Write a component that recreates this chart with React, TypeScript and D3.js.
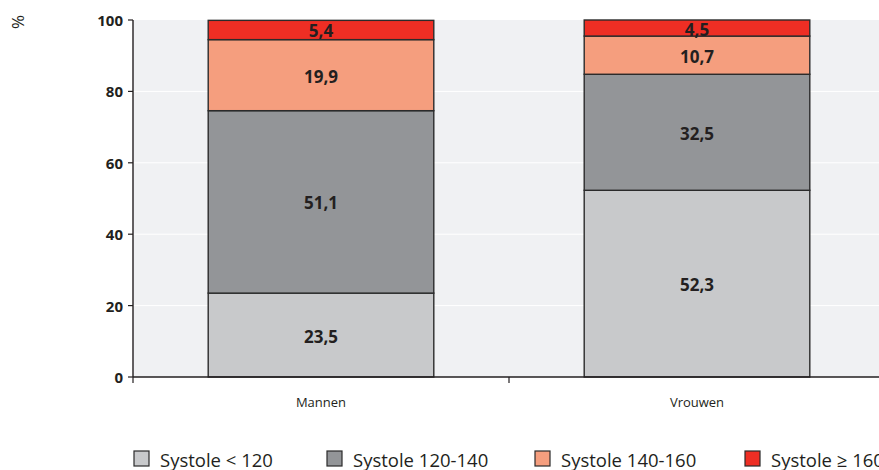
import React from "react";
import * as d3 from "d3";

const categories = ["Mannen", "Vrouwen"];
const seriesNames = ["Systole < 120", "Systole 120-140", "Systole 140-160", "Systole ≥ 160"];
const lt120 = [23.5, 52.3];
const s120_140 = [51.1, 32.5];
const s140_160 = [19.9, 10.7];
const ge160 = [5.4, 4.5];
const yTicks = [0, 20, 40, 60, 80, 100];
const colors = ["#c8c9cb", "#939598", "#f59e7e", "#ee2e24"];

const W = 879;
const H = 470;
const left = 133;
const right = 885;
const top = 20;
const bottom = 377;

export default function App() {
  const series = [lt120, s120_140, s140_160, ge160];
  const x = d3.scaleBand<string>().domain(categories).range([left, right]).paddingInner(0).paddingOuter(0);
  const y = d3.scaleLinear().domain([0, 100]).range([bottom, top]);
  const barW = x.bandwidth() * 0.6;
  const table = categories.map((c, i) => {
    const row: any = { cat: c };
    seriesNames.forEach((s, j) => (row[s] = series[j][i]));
    return row;
  });
  const stacked = d3.stack<any>().keys(seriesNames)(table);
  const font = "'Open Sans', 'DejaVu Sans', sans-serif";
  const legendX = [134, 327, 535, 745];

  return (
    <svg width={W} height={H} style={{ position: "absolute", left: 0, top: 0, fontFamily: font }}>
      <rect x={left} y={top} width={right - left} height={bottom - top} fill="#f0f1f3" />
      {yTicks.filter((t) => t > 0 && t < 100).map((t) => (
        <line key={t} x1={left} x2={right} y1={y(t)} y2={y(t)} stroke="#ffffff" strokeWidth={1} />
      ))}
      {stacked.map((s, j) =>
        s.map((d, i) => {
          const cx = (x(categories[i]) as number) + x.bandwidth() / 2;
          const y0 = y(d[0]);
          const y1 = y(d[1]);
          return (
            <g key={`${j}-${i}`}>
              <rect x={cx - barW / 2} y={y1} width={barW} height={y0 - y1} fill={colors[j]} stroke="#2b2b2b" strokeWidth={1.4} />
              <text x={cx} y={(y0 + y1) / 2 + 1} textAnchor="middle" dominantBaseline="central" fontSize={17} fontWeight="bold" fill="#231f20">
                {String(series[j][i]).replace(".", ",")}
              </text>
            </g>
          );
        })
      )}
      <line x1={left} x2={left} y1={top} y2={bottom} stroke="#231f20" strokeWidth={1.4} />
      <line x1={left} x2={right} y1={bottom} y2={bottom} stroke="#231f20" strokeWidth={1.4} />
      {yTicks.map((t) => (
        <g key={t}>
          <line x1={left - 5} x2={left} y1={y(t)} y2={y(t)} stroke="#231f20" strokeWidth={1.2} />
          <text x={left - 10} y={y(t)} textAnchor="end" dominantBaseline="central" fontSize={15} fontWeight="bold" fill="#231f20">
            {t}
          </text>
        </g>
      ))}
      {[left, left + x.bandwidth(), right].map((tx, i) => (
        <line key={i} x1={tx} x2={tx} y1={bottom} y2={bottom + 6} stroke="#231f20" strokeWidth={1.2} />
      ))}
      {categories.map((c) => (
        <text key={c} x={(x(c) as number) + x.bandwidth() / 2} y={407} textAnchor="middle" fontSize={13} fill="#231f20">
          {c}
        </text>
      ))}
      <text transform="translate(17,22) rotate(-90)" textAnchor="middle" dominantBaseline="central" fontSize={17} fill="#231f20">
        %
      </text>
      {seriesNames.map((s, j) => (
        <g key={s}>
          <rect x={legendX[j]} y={451} width={15} height={15} fill={colors[j]} stroke="#2b2b2b" strokeWidth={1.2} />
          <text x={legendX[j] + 26} y={459} dominantBaseline="central" fontSize={18.5} fill="#231f20">
            {s}
          </text>
        </g>
      ))}
    </svg>
  );
}
